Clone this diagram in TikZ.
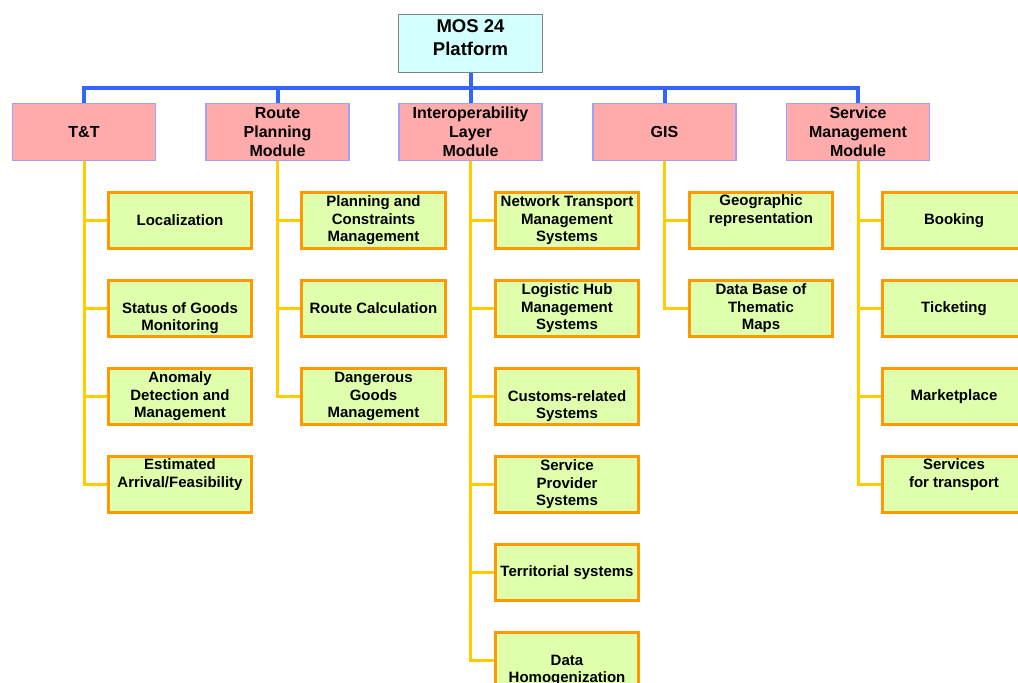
\documentclass[tikz,border=0pt]{standalone}
\usepackage{fontspec}
\setmainfont{Liberation Sans}
\usepackage{tikz}
\usetikzlibrary{backgrounds}
\definecolor{rootfill}{HTML}{D4FFFF}
\definecolor{rootline}{HTML}{808080}
\definecolor{modfill}{HTML}{FFABAB}
\definecolor{modline}{HTML}{A0A0FF}
\definecolor{itemfill}{HTML}{E0FFAC}
\definecolor{itemline}{HTML}{FF9900}
\definecolor{busblue}{HTML}{3366FF}
\definecolor{branchyellow}{HTML}{FFCC00}

\begin{document}
\begin{tikzpicture}[x=1pt,y=-1pt,
  rootbox/.style={draw=rootline,fill=rootfill,line width=1.3pt,minimum width=143.5pt,minimum height=57.5pt,inner sep=0pt,align=center,font=\fontsize{18.5}{23}\selectfont\bfseries},
  modbox/.style={draw=modline,fill=modfill,line width=1.3pt,minimum width=143pt,minimum height=57pt,inner sep=0pt,align=center,font=\fontsize{16}{19}\selectfont\bfseries},
  itembox/.style={draw=itemline,fill=itemfill,line width=2.6pt,minimum width=143.5pt,minimum height=56.5pt,inner sep=0pt,align=center,font=\fontsize{15}{17.5}\selectfont\bfseries},
  bus/.style={draw=busblue,line width=4pt},
  branch/.style={draw=branchyellow,line width=3pt}]
\clip (0,0) rectangle (1018,683);

\node[rootbox] (root) at (470.5,43.5) {MOS 24\\Platform\\[-14pt]\rule[-3pt]{0pt}{0pt}};

\node[modbox] (tt) at (84,132) {T\&T};
\node[modbox] (rpm) at (277.5,132) {Route\\Planning\\Module};
\node[modbox] (ilm) at (470.5,132) {Interoperability\\Layer\\Module};
\node[modbox] (gis) at (664.5,132) {GIS};
\node[modbox] (smm) at (858,132) {Service\\Management\\Module};

\node[itembox] (tt1) at (180,220.5) {Localization};
\node[itembox] (tt2) at (180,308.5) {\strut\\Status of Goods\\Monitoring};
\node[itembox] (tt3) at (180,396.5) {Anomaly\\Detection and\\Management};
\node[itembox] (tt4) at (180,484.5) {Estimated\\Arrival/Feasibility\\\strut};

\node[itembox] (rpm1) at (373.5,220.5) {Planning and\\Constraints\\Management};
\node[itembox] (rpm2) at (373.5,308.5) {Route Calculation};
\node[itembox] (rpm3) at (373.5,396.5) {Dangerous\\Goods\\Management};

\node[itembox] (ilm1) at (567,220.5) {Network Transport\\Management\\Systems};
\node[itembox] (ilm2) at (567,308.5) {Logistic Hub\\Management\\Systems};
\node[itembox] (ilm3) at (567,396.5) {\strut\\Customs-related\\Systems};
\node[itembox] (ilm4) at (567,484.5) {Service\\Provider\\Systems};
\node[itembox] (ilm5) at (567,572.5) {Territorial systems};
\node[itembox] (ilm6) at (567,660.5) {\strut\\Data\\Homogenization};

\node[itembox] (gis1) at (761,220.5) {Geographic\\representation\\\strut};
\node[itembox] (gis2) at (761,308.5) {Data Base of\\Thematic\\Maps};

\node[itembox] (smm1) at (954,220.5) {Booking};
\node[itembox] (smm2) at (954,308.5) {Ticketing};
\node[itembox] (smm3) at (954,396.5) {Marketplace};
\node[itembox] (smm4) at (954,484.5) {Services\\for transport\\\strut};

\begin{scope}[on background layer]
\fill[white] (0,0) rectangle (1018,683);
\coordinate (busline) at (470.5,88);
\draw[bus] (tt.north) |- (busline) -| (smm.north);
\draw[bus] (root.south) -- (ilm.north);
\draw[bus] (rpm.north) -- (rpm.north |- busline);
\draw[bus] (gis.north) -- (gis.north |- busline);

\draw[branch] (tt.south) |- (tt1.west) (tt.south) |- (tt2.west) (tt.south) |- (tt3.west) (tt.south) |- (tt4.west);
\draw[branch] (rpm.south) |- (rpm1.west) (rpm.south) |- (rpm2.west) (rpm.south) |- (rpm3.west);
\draw[branch] (ilm.south) |- (ilm1.west) (ilm.south) |- (ilm2.west) (ilm.south) |- (ilm3.west) (ilm.south) |- (ilm4.west) (ilm.south) |- (ilm5.west) (ilm.south) |- (ilm6.west);
\draw[branch] (gis.south) |- (gis1.west) (gis.south) |- (gis2.west);
\draw[branch] (smm.south) |- (smm1.west) (smm.south) |- (smm2.west) (smm.south) |- (smm3.west) (smm.south) |- (smm4.west);
\end{scope}
\end{tikzpicture}
\end{document}
